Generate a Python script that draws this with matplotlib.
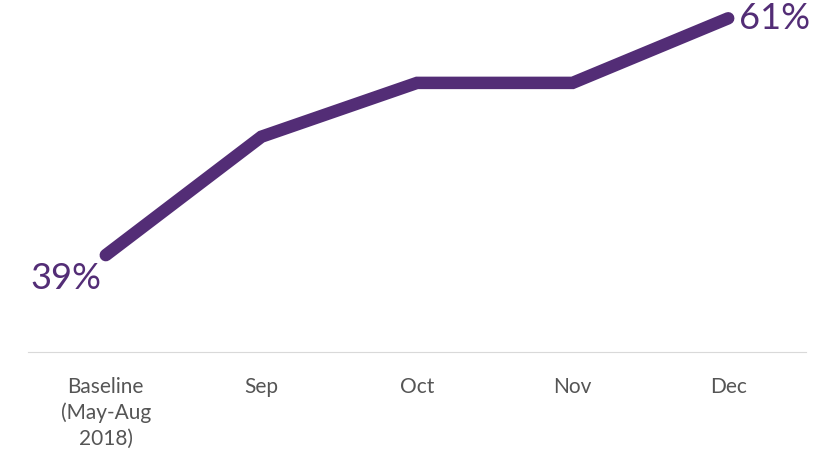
import matplotlib
matplotlib.use("Agg")
import matplotlib.pyplot as plt

categories = ["Baseline\n(May-Aug\n2018)", "Sep", "Oct", "Nov", "Dec"]
values = [39, 50, 55, 55, 61]

fig = plt.figure(figsize=(8.4, 4.53), dpi=100)
ax = fig.add_axes([28/840, 1-352/453, (806-28)/840, 352/453])
x = list(range(len(values)))
color = "#532d76"
ax.plot(x, values, color=color, lw=9, solid_capstyle="round", solid_joinstyle="miter")
ax.set_xlim(-0.5, 4.5)
ax.set_ylim(30, 62.7)
ax.set_yticks([])
ax.set_xticks(x)
ax.set_xticklabels(categories, fontsize=15, color="#555555", family="Lato", linespacing=1.35)
ax.tick_params(axis="x", length=0, pad=18)
for s in ["top", "right", "left"]:
    ax.spines[s].set_visible(False)
ax.spines["bottom"].set_color("#d9d9d9")
ax.text(x[0] - 0.03, values[0] - 0.6, f"{values[0]}%", ha="right", va="top", fontsize=26, color=color, family="Lato")
ax.text(x[-1] + 0.07, values[-1], f"{values[-1]}%", ha="left", va="center", fontsize=26, color=color, family="Lato")
fig.savefig("out.png", dpi=100)
